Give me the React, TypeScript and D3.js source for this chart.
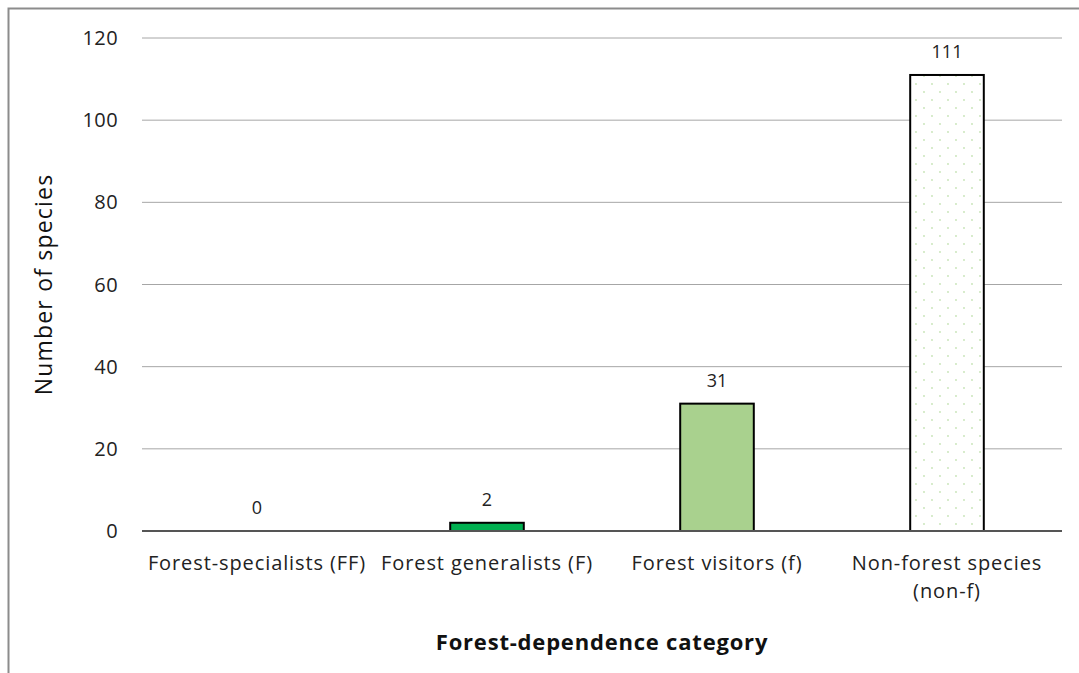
import * as d3 from "d3";

const categories = [
  ["Forest-specialists (FF)"],
  ["Forest generalists (F)"],
  ["Forest visitors (f)"],
  ["Non-forest species", "(non-f)"],
];
const counts = [0, 2, 31, 111];
const barFills = ["#00b050", "#00b050", "#a9d18e", "url(#dots)"];
const yTicks = [0, 20, 40, 60, 80, 100, 120];

const W = 1079;
const H = 673;
const margin = { top: 38, right: 17, bottom: 142, left: 142 };
const font = "'Open Sans', sans-serif";

export default function App() {
  const x = d3
    .scaleBand<number>()
    .domain(d3.range(categories.length))
    .range([margin.left, W - margin.right]);
  const y = d3
    .scaleLinear()
    .domain([0, 120])
    .range([H - margin.bottom, margin.top]);
  const barW = x.bandwidth() * 0.32;

  return (
    <svg
      width={W}
      height={H}
      style={{ position: "absolute", left: 0, top: 0, background: "#fff" }}
      fontFamily={font}
    >
      <defs>
        <pattern id="dots" width="16" height="16" patternUnits="userSpaceOnUse">
          <rect width="16" height="16" fill="#fff" />
          <circle cx="4" cy="4" r="0.9" fill="#c6e3b5" />
          <circle cx="12" cy="12" r="0.9" fill="#c6e3b5" />
        </pattern>
      </defs>
      {/* frame */}
      <path d={`M8.5,${H} V8.5 H${W}`} fill="none" stroke="#8c8c8c" strokeWidth={2} />

      {/* gridlines + y labels */}
      {yTicks.map((t) => (
        <g key={t}>
          {t > 0 && (
            <line
              x1={margin.left}
              x2={W - margin.right}
              y1={y(t)}
              y2={y(t)}
              stroke="#a6a6a6"
              strokeWidth={1}
            />
          )}
          <text
            x={118}
            y={y(t)}
            dy="0.35em"
            textAnchor="end"
            fontSize={20}
            letterSpacing={0.4}
            fill="#222"
          >
            {t}
          </text>
        </g>
      ))}

      {/* bars */}
      {counts.map((v, i) => {
        const cx = (x(i) as number) + x.bandwidth() / 2;
        return (
          <g key={i}>
            {v > 0 && (
              <rect
                x={cx - barW / 2}
                y={y(v)}
                width={barW}
                height={y(0) - y(v)}
                fill={barFills[i]}
                stroke="#000"
                strokeWidth={2}
              />
            )}
            <text
              x={cx}
              y={y(v) - 17}
              textAnchor="middle"
              fontSize={18}
              fill="#222"
            >
              {v}
            </text>
          </g>
        );
      })}

      {/* zero axis */}
      <line
        x1={margin.left}
        x2={W - margin.right}
        y1={y(0)}
        y2={y(0)}
        stroke="#555"
        strokeWidth={2}
      />

      {/* category labels */}
      {categories.map((lines, i) => {
        const cx = (x(i) as number) + x.bandwidth() / 2;
        return (
          <text
            key={i}
            x={cx}
            textAnchor="middle"
            fontSize={20}
            letterSpacing={0.9}
            fill="#222"
          >
            {lines.map((l, j) => (
              <tspan key={j} x={cx} y={570 + j * 28}>
                {l}
              </tspan>
            ))}
          </text>
        );
      })}

      {/* axis titles */}
      <text
        x={(margin.left + W - margin.right) / 2}
        y={650}
        textAnchor="middle"
        fontSize={22}
        fontWeight="bold"
        letterSpacing={0.8}
        fill="#111"
      >
        Forest-dependence category
      </text>
      <text
        transform={`translate(52, ${(y(0) + y(120)) / 2}) rotate(-90)`}
        textAnchor="middle"
        fontSize={23}
        letterSpacing={1.2}
        fill="#111"
      >
        Number of species
      </text>
    </svg>
  );
}
